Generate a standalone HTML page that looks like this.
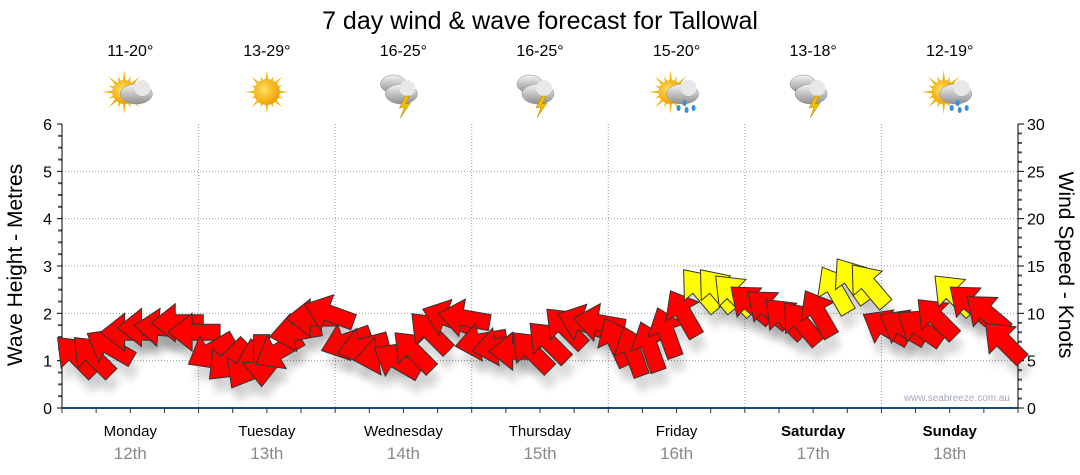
<!DOCTYPE html>
<html><head><meta charset="utf-8">
<style>
body{margin:0;background:#fff;width:1080px;height:475px;overflow:hidden;font-family:"Liberation Sans",sans-serif;}
svg{display:block}
</style></head>
<body>
<svg id="chart" width="1080" height="475" viewBox="0 0 1080 475">
<defs>
<radialGradient id="sunG" cx="0.4" cy="0.4" r="0.6"><stop offset="0" stop-color="#ffe060"/><stop offset="1" stop-color="#f0a000"/></radialGradient>
<linearGradient id="cloudG" x1="0" y1="0" x2="0" y2="1"><stop offset="0" stop-color="#f4f4f4"/><stop offset="1" stop-color="#909090"/></linearGradient>
<filter id="sh" x="-50%" y="-50%" width="200%" height="200%"><feGaussianBlur stdDeviation="4"/></filter>
</defs>
<text x="540" y="29" text-anchor="middle" font-size="25" fill="#000">7 day wind &amp; wave forecast for Tallowal</text>
<g id="grid"></g><g id="axes"></g><g id="icons"></g><g id="arrows"></g>
<text x="1010" y="401" text-anchor="end" font-size="10" fill="#a0a8b8">www.seabreeze.com.au</text>
<text transform="translate(22,265) rotate(-90)" text-anchor="middle" font-size="21">Wave Height - Metres</text>
<text transform="translate(1059,265) rotate(90)" text-anchor="middle" font-size="21">Wind Speed - Knots</text>
</svg>
<script>
const days=["Monday","Tuesday","Wednesday","Thursday","Friday","Saturday","Sunday"];
const dates=["12th","13th","14th","15th","16th","17th","18th"];
const temps=["11-20°","13-29°","16-25°","16-25°","15-20°","13-18°","12-19°"];
const weather=["partly","sun","storm","storm","rain","storm","rain"];
const waveTicks=[0,1,2,3,4,5,6];
const windTicks=[0,5,10,15,20,25,30];
const windSpeed=[5.5,5.5,6.5,8,8.5,8.5,9,8, 6,5,4.5,5,6,8,9.5,10, 7,6.5,5.5,5,6,8,9.5,9.5, 7,6.5,6,6,7,8.5,9,9, 7,6,6.5,8,10,12.5,12.5,12, 11,10.5,9.5,9,10,12.5,13.5,13, 8.5,8.5,8.5,9.5,12,11,10,7];
const windDir=[135,135,120,90,90,95,90,90, 60,45,30,0,60,80,90,110, 70,75,80,120,135,135,110,100, 80,80,90,135,135,135,110,100, 155,160,160,160,150,140,140,135, 130,130,135,140,150,150,145,140, 120,120,125,135,135,130,130,135];
const NS="http://www.w3.org/2000/svg";
const L=62,R=1018,T=124,B=408,dayW=(R-L)/7;
const yW=v=>B-(v/6)*(B-T), yK=v=>B-(v/30)*(B-T);
const xPos=i=>L+14+i*(R-L-28)/(windSpeed.length-1);
function el(t,a,p){const e=document.createElementNS(NS,t);for(const k in a)e.setAttribute(k,a[k]);(p||document.getElementById('chart')).appendChild(e);return e;}
const grid=document.getElementById('grid'),axes=document.getElementById('axes'),icons=document.getElementById('icons'),arr=document.getElementById('arrows');
waveTicks.forEach(v=>{if(v>0&&v<6){const g=el('line',{x1:L,x2:R,y1:yW(v),y2:yW(v),stroke:'#999','stroke-dasharray':'1,2'},grid);}
 const t=el('text',{x:L-10,y:yW(v)+6,'text-anchor':'end','font-size':16},axes);t.textContent=v;
 el('line',{x1:L-5,x2:L,y1:yW(v),y2:yW(v),stroke:'#000'},axes);});
for(let i=1;i<24;i++){if(i%4)el('line',{x1:L-4,x2:L,y1:yW(i/4),y2:yW(i/4),stroke:'#555','stroke-width':2},axes);}
windTicks.forEach(v=>{const t=el('text',{x:R+9,y:yK(v)+6,'font-size':16},axes);t.textContent=v;el('line',{x1:R,x2:R+6,y1:yK(v),y2:yK(v),stroke:'#000'},axes);});
for(let i=1;i<30;i++){if(i%5)el('line',{x1:R,x2:R+4,y1:yK(i),y2:yK(i),stroke:'#555','stroke-width':2},axes);}
el('line',{x1:L,x2:L,y1:T,y2:B,stroke:'#000'},axes);el('line',{x1:R,x2:R,y1:T,y2:B,stroke:'#000'},axes);
el('line',{x1:L,x2:R,y1:B,y2:B,stroke:'#1a4a7a','stroke-width':2},axes);
for(let i=0;i<=28;i++)el('line',{x1:L+i*dayW/4,x2:L+i*dayW/4,y1:B,y2:B+5,stroke:'#333'},axes);
days.forEach((d,i)=>{const cx=L+dayW*(i+0.5);
 if(i>0){const g=el('line',{x1:L+dayW*i,x2:L+dayW*i,y1:T,y2:B,stroke:'#999','stroke-dasharray':'1,2'},grid);}
 const t=el('text',{x:cx,y:436,'text-anchor':'middle','font-size':15,'font-weight':i>=5?'bold':'normal'},axes);t.textContent=d;
 const t2=el('text',{x:cx,y:459,'text-anchor':'middle','font-size':17,fill:'#888'},axes);t2.textContent=dates[i];
 const t3=el('text',{x:cx,y:56,'text-anchor':'middle','font-size':16},icons);t3.textContent=temps[i];
 const g=el('g',{transform:`translate(${cx},92)`},icons);
 const w=weather[i];
 if(w==='sun'||w==='partly'||w==='rain'){const sx=w==='sun'?0:-6;for(let k=0;k<16;k++){const a=k*Math.PI/8,r=k%2?17:22;el('polygon',{points:`${sx+Math.cos(a-0.15)*10},${Math.sin(a-0.15)*10} ${sx+Math.cos(a)*r},${Math.sin(a)*r} ${sx+Math.cos(a+0.15)*10},${Math.sin(a+0.15)*10}`,fill:'#f0b000'},g);}el('circle',{cx:sx,cy:0,r:w==='sun'?13:12,fill:'url(#sunG)'},g);}
 if(w!=='sun'){const ox=w==='storm'?-4:4;if(w==='storm'){el('ellipse',{cx:ox-6,cy:-8,rx:13,ry:9,fill:'url(#cloudG)',stroke:'#888','stroke-width':0.5},g);}
  el('ellipse',{cx:ox+2,cy:2,rx:16,ry:10,fill:'url(#cloudG)',stroke:'#888','stroke-width':0.5},g);el('circle',{cx:ox+8,cy:-4,r:8,fill:'#e8e8e8'},g);
  if(w==='storm')el('polygon',{points:`${ox+6},4 ${ox},16 ${ox+5},15 ${ox+1},26 ${ox+11},11 ${ox+6},12 ${ox+10},4`,fill:'#f0c000',stroke:'#b08000','stroke-width':0.5},g);
  if(w==='rain'){[[-2,16],[6,18],[13,16],[4,11]].forEach(p=>el('ellipse',{cx:ox+p[0],cy:p[1],rx:2,ry:3,fill:'#3090e0'},g));}}
});
const shape="-26,-8 2,-8 2,-19 26,0 2,19 2,8 -26,8";
windSpeed.forEach((s,i)=>{const x=xPos(i),y=yK(s);const rot=windDir[i]+90;
 el('polygon',{points:shape,fill:'#000',opacity:0.15,filter:'url(#sh)',transform:`translate(${x+4},${y+14}) rotate(${rot})`},arr);
});
windSpeed.forEach((s,i)=>{const x=xPos(i),y=yK(s);const rot=windDir[i]+90;
 const p=el('polygon',{points:shape,fill:s>=12?'#ffff00':'#ff0000',stroke:'#333','stroke-width':1,transform:`translate(${x},${y}) rotate(${rot})`},arr);
 
 
});
</script>
</body></html>
